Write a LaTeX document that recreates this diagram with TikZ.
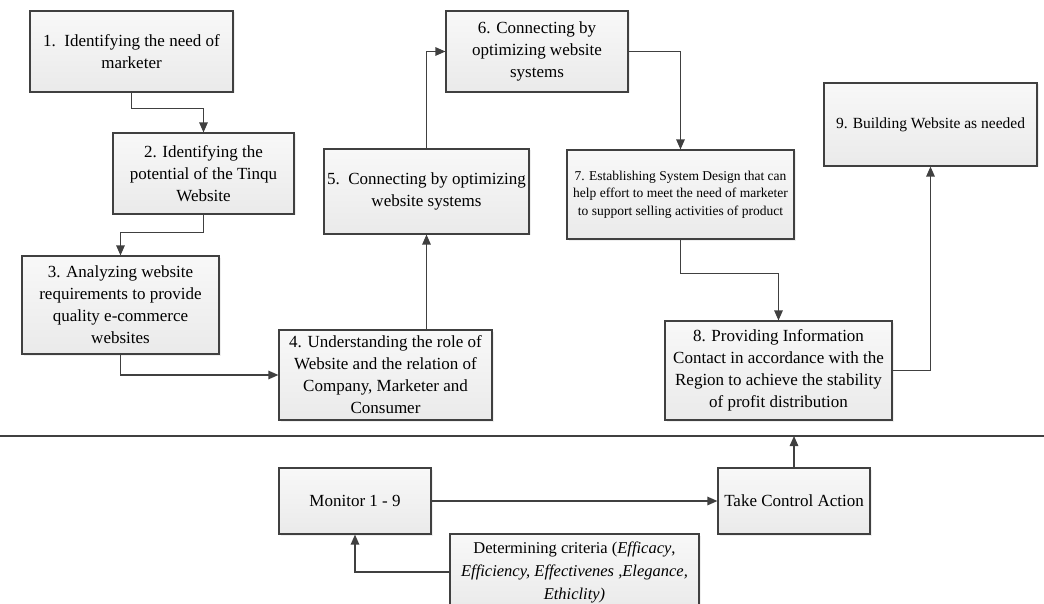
\documentclass[tikz,border=0pt]{standalone}
\usepackage{fontspec}
\setmainfont{Liberation Serif}
\usetikzlibrary{arrows.meta,shadows,calc}
\definecolor{edge}{HTML}{404040}
\definecolor{ftop}{HTML}{F8F8F8}
\definecolor{fbot}{HTML}{EAEAEA}
\tikzset{
  stepbox/.style={draw=edge, line width=1.2pt, top color=ftop, bottom color=fbot,
    drop shadow={opacity=0.12, shadow xshift=1.5pt, shadow yshift=-1.5pt},
    align=center, inner sep=2pt, font=\fontsize{17}{22}\selectfont},
  conn/.style={draw=edge, line width=1.3pt, -{Triangle[length=10pt,width=8.5pt]}},
}
\begin{document}
\begin{tikzpicture}[x=1pt,y=1pt]
\useasboundingbox (0,0) rectangle (1044,-604);
\fill[white] (0,0) rectangle (1044,-604);

\node[stepbox, minimum width=203pt, minimum height=81pt] (b1) at (131.5,-51.5)
  {1.\ \ Identifying the need of\\marketer};
\node[stepbox, minimum width=181pt, minimum height=81pt] (b2) at (203.5,-173.5)
  {2. Identifying the\\potential of the Tinqu\\Website};
\node[stepbox, minimum width=197pt, minimum height=98pt] (b3) at (120.5,-305)
  {3. Analyzing website\\requirements to provide\\quality e-commerce\\websites};
\node[stepbox, minimum width=213pt, minimum height=90pt] (b4) at (385.5,-375)
  {4. Understanding the role of\\Website and the relation of\\Company, Marketer and\\Consumer};
\node[stepbox, minimum width=205pt, minimum height=85pt] (b5) at (426.5,-191.5)
  {5.\ \ Connecting by optimizing\\website systems};
\node[stepbox, minimum width=182pt, minimum height=81pt] (b6) at (537,-51.5)
  {6. Connecting by\\optimizing website\\systems};
\node[stepbox, minimum width=227pt, minimum height=89pt, font=\fontsize{13.5}{17.5}\selectfont] (b7) at (680.5,-194.5)
  {7. Establishing System Design that can\\help effort to meet the need of marketer\\to support selling activities of product};
\node[stepbox, minimum width=227pt, minimum height=99pt] (b8) at (778.5,-370.5)
  {8. Providing Information\\Contact in accordance with the\\Region to achieve the stability\\of profit distribution};
\node[stepbox, minimum width=213pt, minimum height=83pt, font=\fontsize{15.5}{20}\selectfont] (b9) at (930.5,-124.5)
  {9. Building Website as needed};

\node[stepbox, minimum width=152pt, minimum height=66pt] (mon) at (355,-501) {Monitor 1 - 9};
\node[stepbox, minimum width=152pt, minimum height=66pt] (tca) at (794,-501) {Take Control Action};
\node[stepbox, minimum width=249pt, minimum height=76pt, font=\fontsize{16.5}{23}\selectfont] (crit) at (574.5,-572)
  {Determining criteria (\textit{Efficacy},\\\textit{Efficiency, Effectivenes ,Elegance,}\\\textit{Ethiclity)}};

\coordinate (lineL) at (0,-436);
\coordinate (lineR) at (1044,-436);
\draw[edge, line width=1.3pt] (lineL) -- (lineR);
\coordinate (sep) at (tca.north |- lineL);

\draw[conn] (b1.south) -- ++(0,-16) -| (b2.north);
\draw[conn] (b2.south) -- ++(0,-18) -| (b3.north);
\draw[conn] (b3.south) |- (b4.west);
\draw[conn] (b5.south |- b4.north) -- (b5.south);
\draw[conn] (b5.north) |- (b6.west);
\draw[conn] (b6.east) -| (b7.north);
\draw[conn] (b7.south) -- ++(0,-34) -| (b8.north);
\draw[conn] (b8.east) -| (b9.south);
\draw[conn] (mon.east) -- (tca.west);
\draw[conn] (crit.west) -| (mon.south);
\draw[conn] (tca.north) -- (sep);
\end{tikzpicture}
\end{document}
